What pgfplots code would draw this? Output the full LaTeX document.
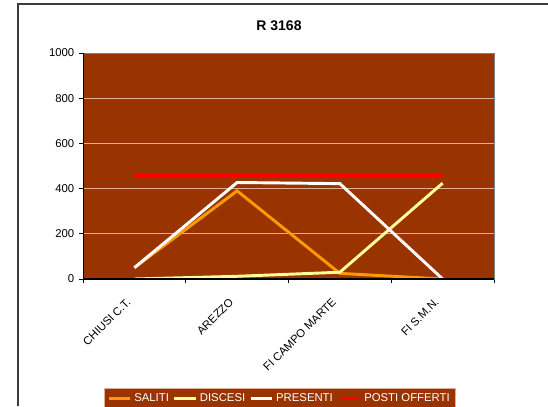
\documentclass[border=0pt]{standalone}
\usepackage{pgfplots}
\pgfplotsset{compat=1.18}
\usepackage{fontspec}
\setmainfont{Liberation Sans}
\definecolor{bgbrown}{RGB}{153,51,0}
\definecolor{salorange}{RGB}{255,153,0}
\definecolor{disyellow}{RGB}{255,255,153}
\definecolor{gridpink}{RGB}{224,176,146}
\definecolor{framegray}{RGB}{60,60,60}
\begin{document}
\begin{tikzpicture}
\begin{axis}[
    scale only axis,
    width=308.25pt,
    height=169.5pt,
    xmin=-0.5, xmax=3.5,
    ymin=0, ymax=1000,
    ytick={0,200,...,1000},
    xtick={-0.5,0.5,1.5,2.5,3.5},
    xticklabels={},
    extra x ticks={0,1,2,3},
    extra x tick labels={CHIUSI C.T., AREZZO, FI CAMPO MARTE, FI S.M.N.},
    extra x tick style={major tick length=0pt,
        xticklabel style={xshift=-3.5pt, yshift=-15pt, rotate=45, anchor=east, inner sep=1pt}},
    tick align=outside,
    tick pos=left,
    major tick length=3pt,
    tick style={black, line width=0.6pt},
    ymajorgrids,
    grid style={gridpink, line width=0.6pt},
    axis background/.style={fill=bgbrown},
    axis line style={draw=gray, line width=0.6pt},
    ticklabel style={font=\fontsize{8.5}{10}\selectfont},
    /pgf/number format/assume math mode=true,
    /pgf/number format/1000 sep={},
    legend columns=4,
    legend style={at={(0.479,-0.482)}, anchor=north, fill=bgbrown, draw=gridpink,
        text=white, font=\fontsize{8.5}{10}\selectfont, inner sep=2pt,
        /tikz/every even column/.append style={column sep=1pt}},
    legend image code/.code={\draw[#1] (0pt,0pt) -- (16pt,0pt);},
]
\addplot[salorange, line width=2.2pt] coordinates {(0,50) (1,390) (2,25) (3,0)};
\addlegendentry{SALITI}
\addplot[disyellow, line width=2.2pt] coordinates {(0,0) (1,12) (2,30) (3,424)};
\addlegendentry{DISCESI}
\addplot[white, line width=2.2pt] coordinates {(0,50) (1,427) (2,422) (3,0)};
\addlegendentry{PRESENTI}
\addplot[red, line width=2.6pt] coordinates {(0,458) (1,458) (2,458) (3,458)};
\addlegendentry{POSTI OFFERTI}
\draw[black, line width=0.8pt] (rel axis cs:0,1) -- (rel axis cs:0,0) -- (rel axis cs:1,0);
\end{axis}
\node[font=\bfseries\fontsize{10.5}{12}\selectfont] at (147pt,189.75pt) {R 3168};
\draw[framegray, line width=1.2pt] (-48.75pt,-95.25pt) |- (348.75pt,206.25pt);
\pgfresetboundingbox
\path[use as bounding box] (-62.25pt,-95.25pt) rectangle (348.75pt,209.25pt);
\end{tikzpicture}
\end{document}
